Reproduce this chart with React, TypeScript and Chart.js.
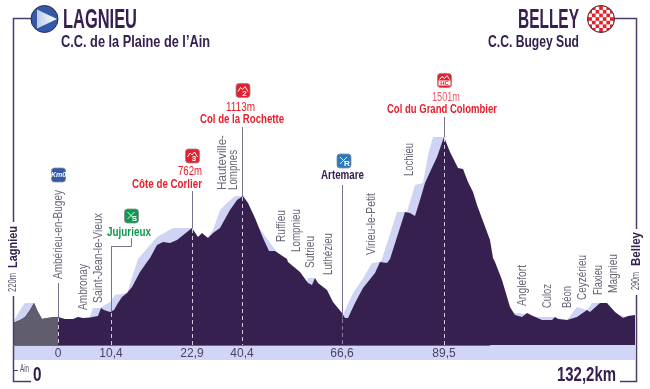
import React, { useEffect, useRef } from "react";
import { Chart, registerables } from "chart.js";

Chart.register(...registerables);

// Horizontal position along the (non-linear) printed profile, and elevation in metres
const profilePos = [0,7,12,17,21,25,29,34,42,45,52,60,65,70,77,85,88,91,94,97,101,105,109,114,119,127,134,137,144,150,157,164,174,179,185,189,195,200,207,217,224,230,235,242,250,256,262,274,275,287,295,299,302,305,314,320,329,332,335,342,350,362,367,374,377,392,397,402,407,412,417,424,431,437,445,450,455,460,464,477,480,482,489,497,502,509,514,520,529,539,542,545,554,564,574,577,587,594,602,610,615,622];
const profileElev = [199,220,241,290,339,276,227,234,241,241,227,227,241,234,237,248,304,290,283,276,290,339,381,409,451,556,626,654,745,766,759,780,836,864,801,829,794,829,864,990,1060,1088,1039,934,794,703,703,647,626,556,479,465,514,479,430,346,269,234,234,339,444,549,626,619,647,976,969,948,1060,1179,1256,1361,1501,1396,1284,1277,1186,1116,1025,780,654,626,500,311,255,241,269,248,220,220,241,227,220,241,290,276,339,339,276,234,248,255];
const shadowPos = [0,9,12,21,25,76,77,80,87,97,102,114,124,125,137,144,160,179,185,194,200,207,215,222,230,233,277,293,295,302,305,329,340,349,359,367,369,384,394,402,410,415,420,431,434,480,498,500,507,524,540,554,564,574,579,589,592,622];
const shadowElev = [206,311,339,339,220,220,248,304,304,346,395,409,626,647,745,801,864,864,780,794,850,990,1046,1088,1088,990,570,465,514,514,430,241,409,500,619,626,647,976,976,1165,1179,1375,1501,1501,1340,605,220,269,269,241,241,220,311,290,339,339,290,220];

const kmPos = [45,98,179,229,329,431];
const kmLabels = ["0","10,4","22,9","40,4","66,6","89,5"];
const kmElev = [241,276,864,1088,234,1501];

const villages = ["Ambérieu-en-Bugey","Ambronay","Saint-Jean-le-Vieux","Hauteville-","Lompnes","Ruffieu","Lompnieu","Sutrieu","Luthézieu","Virieu-le-Petit","Lochieu","Anglefort","Culoz","Béon","Ceyzérieu","Flaxieu","Magnieu"];
const villagePos = [45,70,85,209,220,268,283,297,315,358,396,509,534,554,569,585,600];

const baseElev = 45;
const DARK = "#35204f";
const RED = "#e5202e";
const GREEN = "#0d9a50";
const BLUE = "#3558a8";
const NARROW = '"Liberation Sans Narrow", "Liberation Sans", sans-serif';

// [bottom px, length px] of each village label
const villageBox = [[279,89],[310,46],[303,90],[190,55],[190,40],[242,32],[252,43],[268,32],[275,42],[255,62],[176,33],[306,41],[308,24],[308,22],[300,45],[295,30],[293,39]];

function fitText(ctx: CanvasRenderingContext2D, text: string, x: number, y: number, w: number, font: string, color: string, rot = 0) {
  ctx.save();
  ctx.font = font;
  ctx.fillStyle = color;
  ctx.textAlign = "left";
  ctx.textBaseline = "middle";
  const m = ctx.measureText(text).width;
  ctx.translate(x, y);
  if (rot) ctx.rotate(rot);
  ctx.scale(w / m, 1);
  ctx.fillText(text, 0, 0);
  ctx.restore();
}

function line(ctx: CanvasRenderingContext2D, pts: number[][], color: string, width: number, dash: number[] = []) {
  ctx.save();
  ctx.strokeStyle = color;
  ctx.lineWidth = width;
  ctx.setLineDash(dash);
  ctx.beginPath();
  pts.forEach((p, i) => (i ? ctx.lineTo(p[0], p[1]) : ctx.moveTo(p[0], p[1])));
  ctx.stroke();
  ctx.restore();
}

function badge(ctx: CanvasRenderingContext2D, cx: number, cy: number, color: string, label: string, kind: string) {
  ctx.save();
  const s = 14;
  ctx.fillStyle = color;
  ctx.strokeStyle = "#8a8a90";
  ctx.lineWidth = 0.8;
  ctx.beginPath();
  ctx.roundRect(cx - s / 2, cy - s / 2, s, s, 3);
  ctx.fill();
  ctx.stroke();
  ctx.fillStyle = "#fff";
  ctx.textAlign = "center";
  ctx.textBaseline = "middle";
  if (kind === "mount") {
    line(ctx, [[cx - 5, cy + 1], [cx - 2.5, cy - 3], [cx - 0.5, cy - 1], [cx + 2, cy - 4], [cx + 5, cy + 1]], "#fff", 1);
    ctx.font = `bold 8px ${NARROW}`;
    ctx.fillText(label, cx + 1.5, cy + 3);
  } else if (kind === "hc") {
    line(ctx, [[cx - 5, cy - 1], [cx - 2.5, cy - 4], [cx, cy - 2], [cx + 2.5, cy - 5], [cx + 5, cy - 1]], "#fff", 1);
    ctx.fillRect(cx - 6, cy, 12, 5);
    ctx.fillStyle = color;
    ctx.font = `bold 6px ${NARROW}`;
    ctx.fillText(label, cx, cy + 2.8);
  } else if (kind === "km") {
    ctx.font = `italic bold 7px ${NARROW}`;
    ctx.fillText(label, cx, cy + 0.5);
  } else {
    line(ctx, [[cx - 4, cy - 4], [cx + 1, cy + 1]], "#dfe", 1);
    line(ctx, [[cx + 3, cy - 4], [cx - 4, cy + 3]], "#dfe", 1);
    ctx.font = `bold 8px ${NARROW}`;
    ctx.fillText(label, cx + 3, cy + 3);
  }
  ctx.restore();
}

const overlay = {
  id: "overlay",
  beforeDatasetsDraw(chart: any) {
    const { left, right, bottom } = chart.chartArea;
    const ctx: CanvasRenderingContext2D = chart.ctx;
    ctx.save();
    ctx.fillStyle = "#d2d6f6";
    ctx.fillRect(left, bottom, right - left, 15);
    ctx.restore();
  },
  afterDatasetsDraw(chart: any) {
    const ctx: CanvasRenderingContext2D = chart.ctx;
    const xs = chart.scales.x;
    const ys = chart.scales.y;
    const px = (v: number) => Math.round(xs.getPixelForValue(v)) + 0.5;
    const py = (v: number) => ys.getPixelForValue(v);

    // frame
    const FRAME = "#4b3b6e";
    line(ctx, [[31, 18.5], [13.5, 18.5], [13.5, 222]], FRAME, 1.5);
    line(ctx, [[13.5, 296], [13.5, 381.5], [31, 381.5]], FRAME, 1.5);
    line(ctx, [[13.5, 370.5], [18, 370.5]], FRAME, 1);
    line(ctx, [[615, 18.5], [636.5, 18.5], [636.5, 229]], FRAME, 1.5);
    line(ctx, [[636.5, 295], [636.5, 381.5], [620, 381.5]], FRAME, 1.5);

    // km markers: dashes inside the mass, leaders above it
    const LEAD = "#7c7290";
    const leaderTop = [283, 246, 191, 127, 185, 117];
    kmPos.forEach((p, i) => {
      const x = px(p);
      const top = py(kmElev[i]);
      line(ctx, [[x, top + 1], [x, py(baseElev)]], i === 4 ? "rgba(170,160,190,0.75)" : "rgba(235,230,245,0.85)", 1, [4, 3]);
      line(ctx, [[x, top], [x, leaderTop[i]]], LEAD, 1);
    });
    line(ctx, [[111.5, 246.5], [131.5, 246.5], [131.5, 238]], LEAD, 1);
    line(ctx, [[13, 345.5], [490, 345.5]], "#6d6390", 1);

    // villages
    const GREY = "#6a6475";
    villages.forEach((v, i) => {
      const [bottom, len] = villageBox[i];
      fitText(ctx, v, px(villagePos[i]), bottom, len, `12.5px ${NARROW}`, GREY, -Math.PI / 2);
    });

    // titles
    fitText(ctx, "LAGNIEU", 63, 20, 74, `bold 28px ${NARROW}`, DARK);
    fitText(ctx, "C.C. de la Plaine de l’Ain", 61, 42, 149, `bold 17px ${NARROW}`, DARK);
    fitText(ctx, "BELLEY", 518, 20, 61, `bold 28px ${NARROW}`, DARK);
    fitText(ctx, "C.C. Bugey Sud", 488, 42, 91, `bold 17px ${NARROW}`, DARK);

    // side labels
    fitText(ctx, "Lagnieu", 13.5, 268, 42, `bold 13px ${NARROW}`, DARK, -Math.PI / 2);
    fitText(ctx, "220m", 13.5, 292, 19, `10px ${NARROW}`, "#55506a", -Math.PI / 2);
    fitText(ctx, "Belley", 636, 266, 34, `bold 13px ${NARROW}`, DARK, -Math.PI / 2);
    fitText(ctx, "290m", 636, 290, 18, `10px ${NARROW}`, "#55506a", -Math.PI / 2);
    fitText(ctx, "Ain", 20, 369, 9, `10px ${NARROW}`, "#55506a");
    fitText(ctx, "0", 33, 375, 8.5, `bold 21px ${NARROW}`, DARK);
    fitText(ctx, "132,2km", 557, 375, 59, `bold 20px ${NARROW}`, DARK);

    // climbs
    fitText(ctx, "1113m", 226, 107, 29, `13px ${NARROW}`, RED);
    fitText(ctx, "Col de la Rochette", 200, 119, 84, `bold 13px ${NARROW}`, RED);
    fitText(ctx, "762m", 178, 171, 24, `13px ${NARROW}`, RED);
    fitText(ctx, "Côte de Corlier", 132, 184, 70, `bold 13px ${NARROW}`, RED);
    fitText(ctx, "1501m", 432, 97, 28, `13px ${NARROW}`, "#ec5a64");
    fitText(ctx, "Col du Grand Colombier", 387, 109, 110, `bold 13px ${NARROW}`, RED);
    fitText(ctx, "Jujurieux", 107, 232, 44, `bold 13px ${NARROW}`, GREEN);
    fitText(ctx, "Artemare", 321, 175, 43, `bold 13px ${NARROW}`, DARK);

    badge(ctx, 58.5, 175, BLUE, "Km0", "km");
    badge(ctx, 131.5, 216, GREEN, "S", "other");
    badge(ctx, 192.5, 156, RED, "3", "mount");
    badge(ctx, 243, 90.5, RED, "2", "mount");
    badge(ctx, 344, 161, "#2a78c0", "R", "other");
    badge(ctx, 444.5, 80.5, RED, "HC", "hc");

    // start icon
    ctx.save();
    ctx.fillStyle = BLUE;
    ctx.strokeStyle = "#222b50";
    ctx.lineWidth = 1;
    ctx.beginPath();
    ctx.arc(44.5, 19, 13.5, 0, Math.PI * 2);
    ctx.fill();
    ctx.stroke();
    const g = ctx.createLinearGradient(37, 0, 57, 0);
    g.addColorStop(0, "#b9cdee");
    g.addColorStop(1, "#ffffff");
    ctx.fillStyle = g;
    ctx.beginPath();
    ctx.moveTo(37, 9.5);
    ctx.lineTo(57, 19);
    ctx.lineTo(37, 28.5);
    ctx.closePath();
    ctx.fill();
    ctx.restore();

    // finish icon
    ctx.save();
    ctx.beginPath();
    ctx.arc(601, 19, 13.5, 0, Math.PI * 2);
    ctx.fillStyle = "#e2202a";
    ctx.fill();
    ctx.clip();
    ctx.fillStyle = "#fff";
    for (let r = -3; r <= 3; r++) {
      for (let c = -3; c <= 3; c++) {
        if ((r + c) % 2 === 0 && Math.abs(r) + Math.abs(c) < 6) ctx.fillRect(601 + c * 3.6 - 1.8, 19 + r * 3.6 - 1.8, 3.6, 3.6);
      }
    }
    ctx.restore();
    ctx.beginPath();
    ctx.arc(601, 19, 13.5, 0, Math.PI * 2);
    ctx.strokeStyle = "#5a2a30";
    ctx.lineWidth = 1;
    ctx.stroke();
  },
};

const toPoints = (xs: number[], ys: number[]) => xs.map((x, i) => ({ x, y: ys[i] }));

export default function App() {
  const ref = useRef<HTMLCanvasElement>(null);
  useEffect(() => {
    document.body.style.margin = "0";
    document.body.style.background = "#fff";
    const area = (data: any[], color: string) => ({
      data,
      backgroundColor: color,
      borderWidth: 0,
      pointRadius: 0,
      tension: 0,
      fill: { value: baseElev },
    });
    const startCount = profilePos.filter((p) => p <= 45).length;
    const chart = new Chart(ref.current!, {
      type: "line",
      data: {
        datasets: [
          area(toPoints(profilePos, profileElev).slice(0, startCount), "#605d6e"),
          area(toPoints(profilePos, profileElev), DARK),
          area(toPoints(shadowPos, shadowElev), "#d0d4f4"),
        ],
      },
      options: {
        responsive: false,
        animation: false,
        events: [],
        layout: { padding: { left: 13, right: 15, top: 0, bottom: 0 } },
        plugins: { legend: { display: false }, tooltip: { enabled: false } },
        scales: {
          x: {
            type: "linear",
            min: 0,
            max: 622,
            offset: false,
            grid: { display: false, drawTicks: false },
            border: { display: false },
            afterFit(scale: any) { scale.height = 44; scale.paddingLeft = 0; scale.paddingRight = 0; },
            afterBuildTicks(scale: any) { scale.ticks = kmPos.map((value) => ({ value })); },
            ticks: {
              z: 1,
              autoSkip: false,
              maxRotation: 0,
              padding: 1,
              color: "#4a3f66",
              font: { family: NARROW, size: 12 },
              callback: (_v: any, i: number) => kmLabels[i],
            },
          },
          y: { display: false, min: baseElev, max: 2460 },
        },
      },
      plugins: [overlay],
    } as any);
    return () => chart.destroy();
  }, []);
  return <canvas ref={ref} width={650} height={389} style={{ display: "block" }} />;
}
